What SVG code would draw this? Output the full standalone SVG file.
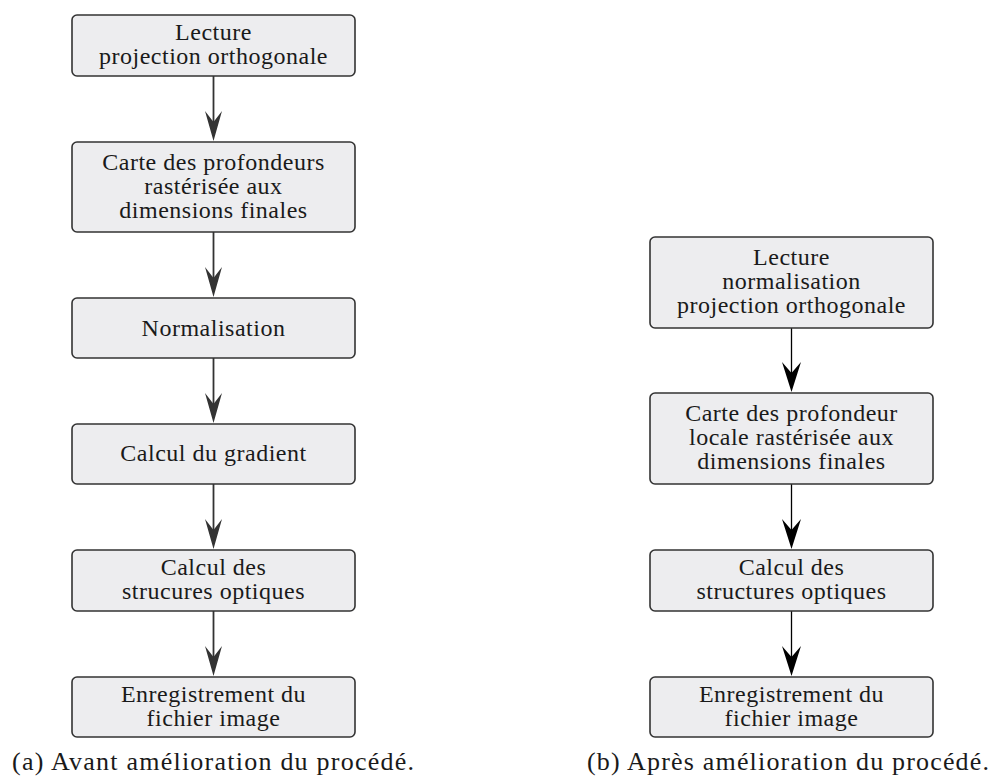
<svg xmlns="http://www.w3.org/2000/svg" width="995" height="780" viewBox="0 0 995 780">
<defs>
<style>
.box{fill:#ededef;stroke:#333;stroke-width:1.6}
.t{font-family:"Liberation Serif","Times New Roman",serif;font-size:24px;letter-spacing:0.5px;fill:#1a1a1a;text-anchor:middle}
.cap{font-family:"Liberation Serif","Times New Roman",serif;font-size:26px;fill:#1a1a1a}
.la{stroke:#333;stroke-width:1.8;fill:none}
.ra{stroke:#000;stroke-width:1.3;fill:none}
.lh{fill:#333}
.rh{fill:#000}
</style>
<path id="headL" d="M0,0 L-8.5,-30 L0,-19 L8.5,-30 Z"/>
<path id="headR" d="M0,0 L-9.5,-30 L0,-19 L9.5,-30 Z"/>
</defs>
<g id="connectors">
<line class="la" x1="213.5" y1="76" x2="213.5" y2="125"/><use href="#headL" class="lh" x="213.5" y="141"/>
<line class="la" x1="213.5" y1="232" x2="213.5" y2="281"/><use href="#headL" class="lh" x="213.5" y="297"/>
<line class="la" x1="213.5" y1="358" x2="213.5" y2="407"/><use href="#headL" class="lh" x="213.5" y="423"/>
<line class="la" x1="213.5" y1="484" x2="213.5" y2="533"/><use href="#headL" class="lh" x="213.5" y="549"/>
<line class="la" x1="213.5" y1="611" x2="213.5" y2="660"/><use href="#headL" class="lh" x="213.5" y="676"/>
<line class="ra" x1="791.5" y1="328" x2="791.5" y2="376"/><use href="#headR" class="rh" x="791.5" y="392"/>
<line class="ra" x1="791.5" y1="484" x2="791.5" y2="533"/><use href="#headR" class="rh" x="791.5" y="549"/>
<line class="ra" x1="791.5" y1="611" x2="791.5" y2="660"/><use href="#headR" class="rh" x="791.5" y="676"/>
</g>
<g id="a1"><rect class="box" x="72" y="15" width="283" height="61" rx="5"/><text class="t" x="213.5" y="40">Lecture</text><text class="t" x="213.5" y="64">projection orthogonale</text></g>
<g id="a2"><rect class="box" x="72" y="142" width="283" height="90" rx="5"/><text class="t" x="213.5" y="170">Carte des profondeurs</text><text class="t" x="213.5" y="194">rastérisée aux</text><text class="t" x="213.5" y="218">dimensions finales</text></g>
<g id="a3"><rect class="box" x="72" y="298" width="283" height="60" rx="5"/><text class="t" x="213.5" y="336">Normalisation</text></g>
<g id="a4"><rect class="box" x="72" y="424" width="283" height="60" rx="5"/><text class="t" x="213.5" y="461">Calcul du gradient</text></g>
<g id="a5"><rect class="box" x="72" y="550" width="283" height="61" rx="5"/><text class="t" x="213.5" y="575">Calcul des</text><text class="t" x="213.5" y="599">strucures optiques</text></g>
<g id="a6"><rect class="box" x="72" y="677" width="283" height="60" rx="5"/><text class="t" x="213.5" y="702">Enregistrement du</text><text class="t" x="213.5" y="726">fichier image</text></g>
<g id="b1"><rect class="box" x="650" y="237" width="283" height="91" rx="5"/><text class="t" x="791.5" y="265">Lecture</text><text class="t" x="791.5" y="289">normalisation</text><text class="t" x="791.5" y="313">projection orthogonale</text></g>
<g id="b2"><rect class="box" x="650" y="393" width="283" height="91" rx="5"/><text class="t" x="791.5" y="421">Carte des profondeur</text><text class="t" x="791.5" y="445">locale rastérisée aux</text><text class="t" x="791.5" y="469">dimensions finales</text></g>
<g id="b3"><rect class="box" x="650" y="550" width="283" height="61" rx="5"/><text class="t" x="791.5" y="575">Calcul des</text><text class="t" x="791.5" y="599">structures optiques</text></g>
<g id="b4"><rect class="box" x="650" y="677" width="283" height="60" rx="5"/><text class="t" x="791.5" y="702">Enregistrement du</text><text class="t" x="791.5" y="726">fichier image</text></g>
<g id="captions">
<text class="cap" x="12" y="770" textLength="402" lengthAdjust="spacing">(a) Avant amélioration du procédé.</text>
<text class="cap" x="587" y="770" textLength="402" lengthAdjust="spacing">(b) Après amélioration du procédé.</text>
</g>
</svg>
